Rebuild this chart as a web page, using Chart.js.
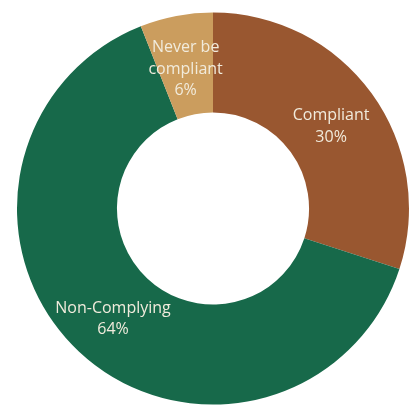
<!DOCTYPE html>
<html>
<head>
<meta charset="utf-8">
<script src="https://cdn.jsdelivr.net/npm/chart.js@4.4.1/dist/chart.umd.min.js"></script>
<style>
  html, body { margin: 0; padding: 0; background: #fff; }
  #wrap { width: 413px; height: 409px; }
</style>
</head>
<body>
<div id="wrap"><canvas id="donut"></canvas></div>
<script>
// chart data
const categories = ['Compliant', 'Non-Complying', 'Never be compliant'];
const labelLines = [['Compliant'], ['Non-Complying'], ['Never be', 'compliant']];
const shares = [30, 64, 6];
const colors = ['#995730', '#17694a', '#cb9d5e'];

// draws the name + percent inside each slice
const sliceLabels = {
  id: 'sliceLabels',
  afterDatasetsDraw(chart) {
    const ctx = chart.ctx;
    const meta = chart.getDatasetMeta(0);
    const total = shares.reduce((a, b) => a + b, 0);
    ctx.save();
    ctx.font = '16px "Open Sans", sans-serif';
    ctx.fillStyle = '#f1ebdc';
    ctx.textAlign = 'center';
    ctx.textBaseline = 'middle';
    meta.data.forEach((arc, i) => {
      const pos = arc.tooltipPosition();
      const lines = labelLines[i].concat([Math.round(shares[i] / total * 100) + '%']);
      const lh = 21.5;
      const top = pos.y + 4 - (lines.length - 1) * lh / 2;
      lines.forEach((t, j) => ctx.fillText(t, pos.x, top + j * lh));
    });
    ctx.restore();
  }
};

new Chart(document.getElementById('donut'), {
  type: 'doughnut',
  data: {
    labels: categories,
    datasets: [{
      data: shares,
      backgroundColor: colors,
      borderWidth: 0,
    }],
  },
  options: {
    responsive: true,
    maintainAspectRatio: false,
    animation: false,
    cutout: '49%',
    layout: { padding: { left: 17, top: 11, right: 4, bottom: 3 } },
    plugins: {
      legend: { display: false },
      tooltip: { enabled: false },
    },
  },
  plugins: [sliceLabels],
});
</script>
</body>
</html>
